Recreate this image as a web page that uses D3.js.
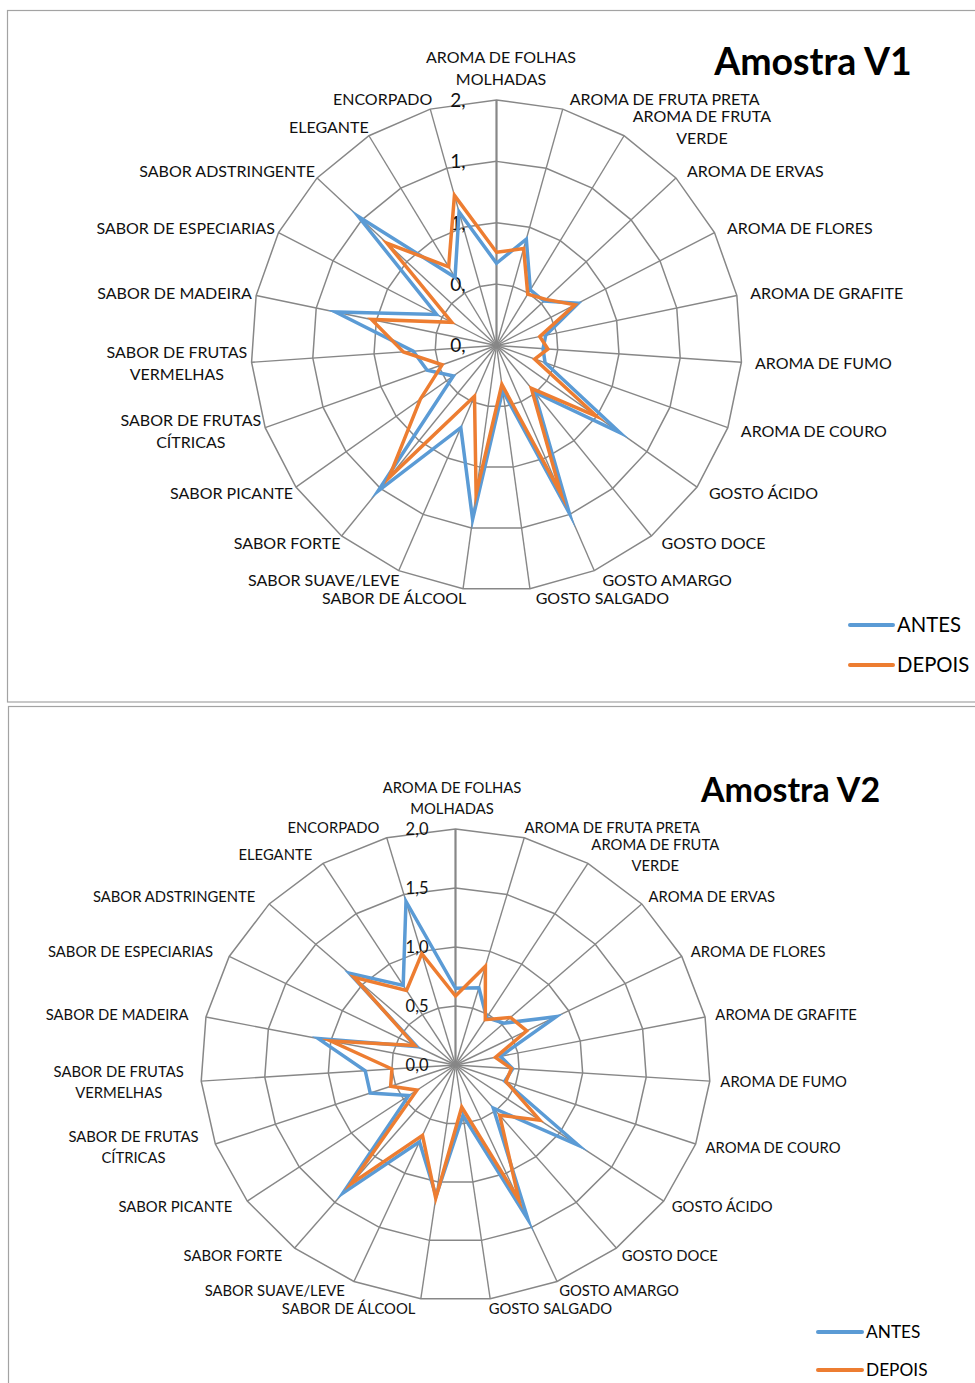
<!DOCTYPE html>
<html><head><meta charset="utf-8">
<script src="https://cdn.jsdelivr.net/npm/d3@7"></script>
<style>
body{margin:0;background:#fff;}
svg{display:block;font-family:Lato,"Open Sans",sans-serif;}
</style></head><body>
<svg id="fig" width="975" height="1383"></svg>
<script>
// Atributos avaliados (sentido horário, a partir do topo)
const categorias = [
  "AROMA DE FOLHAS\nMOLHADAS", "AROMA DE FRUTA PRETA", "AROMA DE FRUTA\nVERDE",
  "AROMA DE ERVAS", "AROMA DE FLORES", "AROMA DE GRAFITE", "AROMA DE FUMO",
  "AROMA DE COURO", "GOSTO ÁCIDO", "GOSTO DOCE", "GOSTO AMARGO", "GOSTO SALGADO",
  "SABOR DE ÁLCOOL", "SABOR SUAVE/LEVE", "SABOR FORTE", "SABOR PICANTE",
  "SABOR DE FRUTAS\nCÍTRICAS", "SABOR DE FRUTAS\nVERMELHAS", "SABOR DE MADEIRA",
  "SABOR DE ESPECIARIAS", "SABOR ADSTRINGENTE", "ELEGANTE", "ENCORPADO"
];
const series = ["ANTES", "DEPOIS"];

const antesV1  = [0.67, 0.90, 0.53, 0.53, 0.75, 0.41, 0.38, 0.42, 1.23, 0.49, 1.49, 0.37, 1.43, 0.73, 1.53, 0.43, 0.60, 0.68, 1.34, 0.55, 1.54, 0.65, 1.13];
const depoisV1 = [0.76, 0.82, 0.49, 0.55, 0.72, 0.36, 0.42, 0.33, 1.00, 0.45, 1.32, 0.32, 1.22, 0.45, 1.39, 0.76, 0.47, 0.76, 1.04, 0.41, 1.22, 0.75, 1.27];
const antesV2  = [0.65, 0.68, 0.47, 0.52, 0.89, 0.36, 0.45, 0.41, 1.18, 0.47, 1.43, 0.43, 1.12, 0.71, 1.40, 0.45, 0.71, 0.71, 1.10, 0.34, 1.14, 0.79, 1.44];
const depoisV2 = [0.585, 0.87, 0.45, 0.59, 0.63, 0.32, 0.44, 0.42, 0.81, 0.55, 1.25, 0.36, 1.14, 0.65, 1.30, 0.37, 0.54, 0.50, 1.00, 0.36, 1.09, 0.74, 0.98];

const valoresEixo = [0, 0.5, 1, 1.5, 2];
const rotulosV1 = ["0,", "0,", "1,", "1,", "2,"];
const rotulosV2 = ["0,0", "0,5", "1,0", "1,5", "2,0"];

const cores = ["#5B9BD5", "#ED7D31"];
const corGrade = "#878787";

const svg = d3.select("#fig");

function radar(cfg) {
  const g = svg.append("g");
  const n = categorias.length;
  const ang = d3.scaleLinear().domain([0, n]).range([0, 2 * Math.PI]);
  const raio = d3.scaleLinear().domain([0, d3.max(valoresEixo)]).range([0, cfg.r]);
  const pt = (i, v) => {
    const a = ang(i), r = raio(v);
    return [cfg.cx + cfg.sx * r * Math.sin(a), cfg.cy - r * Math.cos(a)];
  };

  // moldura do gráfico
  g.append("rect").attr("x", cfg.box[0]).attr("y", cfg.box[1])
    .attr("width", cfg.box[2]).attr("height", cfg.box[3])
    .attr("fill", "none").attr("stroke", "#a3a3a3").attr("stroke-width", 1.2);

  // anéis da grade
  const anel = d3.line().curve(d3.curveLinearClosed);
  valoresEixo.filter(v => v > 0).forEach(v => {
    g.append("path").attr("d", anel(d3.range(n).map(i => pt(i, v))))
      .attr("fill", "none").attr("stroke", corGrade).attr("stroke-width", 1.5);
  });
  // raios
  d3.range(n).forEach(i => {
    const [x, y] = pt(i, d3.max(valoresEixo));
    g.append("line").attr("x1", cfg.cx).attr("y1", cfg.cy).attr("x2", x).attr("y2", y)
      .attr("stroke", corGrade).attr("stroke-width", i === 0 ? 2.2 : 1.4);
  });

  // rótulos do eixo de valores
  valoresEixo.forEach((v, k) => {
    const [, y] = pt(0, v);
    g.append("text").attr("x", cfg.cx - cfg.tickGap).attr("y", y + cfg.tickFs * 0.36)
      .attr("text-anchor", "end").attr("font-size", cfg.tickFs).attr("fill", "#111")
      .text(cfg.rotulos[k]);
  });

  // séries
  const linha = d3.line().curve(d3.curveLinearClosed);
  cfg.dados.forEach((d, s) => {
    g.append("path").attr("d", linha(d.map((v, i) => pt(i, v))))
      .attr("fill", "none").attr("stroke", cores[s]).attr("stroke-width", cfg.lw)
      .attr("stroke-linejoin", "miter").attr("stroke-miterlimit", 10);
  });

  // rótulos das categorias
  categorias.forEach((txt, i) => {
    const a = ang(i), s = Math.sin(a), c = Math.cos(a);
    const linhas = txt.split("\n");
    const x = cfg.lcx + cfg.lrx * s;
    let y = cfg.cy - cfg.lry * c;
    if (Math.abs(s) < 0.05 && c > 0) y -= linhas.length * cfg.lh / 2;
    const t = g.append("text").attr("font-size", cfg.fs).attr("fill", "#111")
      .attr("text-anchor", "middle");
    const spans = linhas.map(l => t.append("tspan").text(l));
    const w = d3.max(spans, sp => sp.node().getComputedTextLength());
    const bx = Math.abs(s) < 0.05 ? x : (s > 0 ? x + w / 2 : x - w / 2);
    spans.forEach((sp, k) => {
      sp.attr("x", bx).attr("y", y + (k - (linhas.length - 1) / 2) * cfg.lh + cfg.fs * 0.36);
    });
  });

  // título
  g.append("text").attr("x", cfg.titulo.x).attr("y", cfg.titulo.y + cfg.titulo.fs * 0.36)
    .attr("text-anchor", "middle").attr("font-weight", 700).attr("font-size", cfg.titulo.fs)
    .attr("fill", "#000").text(cfg.titulo.txt);

  // legenda
  series.forEach((nome, s) => {
    const y = cfg.leg.y + s * cfg.leg.dy;
    g.append("line").attr("x1", cfg.leg.x).attr("x2", cfg.leg.x + cfg.leg.len)
      .attr("y1", y).attr("y2", y).attr("stroke", cores[s]).attr("stroke-width", 4)
      .attr("stroke-linecap", "round");
    g.append("text").attr("x", cfg.leg.x + cfg.leg.len + 4).attr("y", y + cfg.leg.fs * 0.36)
      .attr("font-size", cfg.leg.fs).attr("fill", "#000").text(nome);
  });
}

radar({
  cx: 496.5, cy: 345.5, r: 245.5, sx: 1,
  box: [7.5, 10.5, 1000, 691.5],
  dados: [antesV1, depoisV1], rotulos: rotulosV1,
  lw: 3.5, fs: 16, lh: 22, tickFs: 19, tickGap: 31,
  lcx: 501, lrx: 254.5, lry: 255.5,
  titulo: { txt: "Amostra V1", x: 813, y: 61, fs: 37.5 },
  leg: { x: 850, y: 625, dy: 40, len: 43, fs: 20.3 }
});

radar({
  cx: 455.5, cy: 1065, r: 236, sx: 1.08,
  box: [8.5, 706.5, 1000, 700],
  dados: [antesV2, depoisV2], rotulos: rotulosV2,
  lw: 3.5, fs: 14.8, lh: 21, tickFs: 16.5, tickGap: 27,
  lcx: 452, lrx: 269, lry: 246,
  titulo: { txt: "Amostra V2", x: 790.5, y: 790, fs: 34 },
  leg: { x: 818, y: 1332, dy: 38, len: 44, fs: 17.3 }
});
</script>
</body></html>
